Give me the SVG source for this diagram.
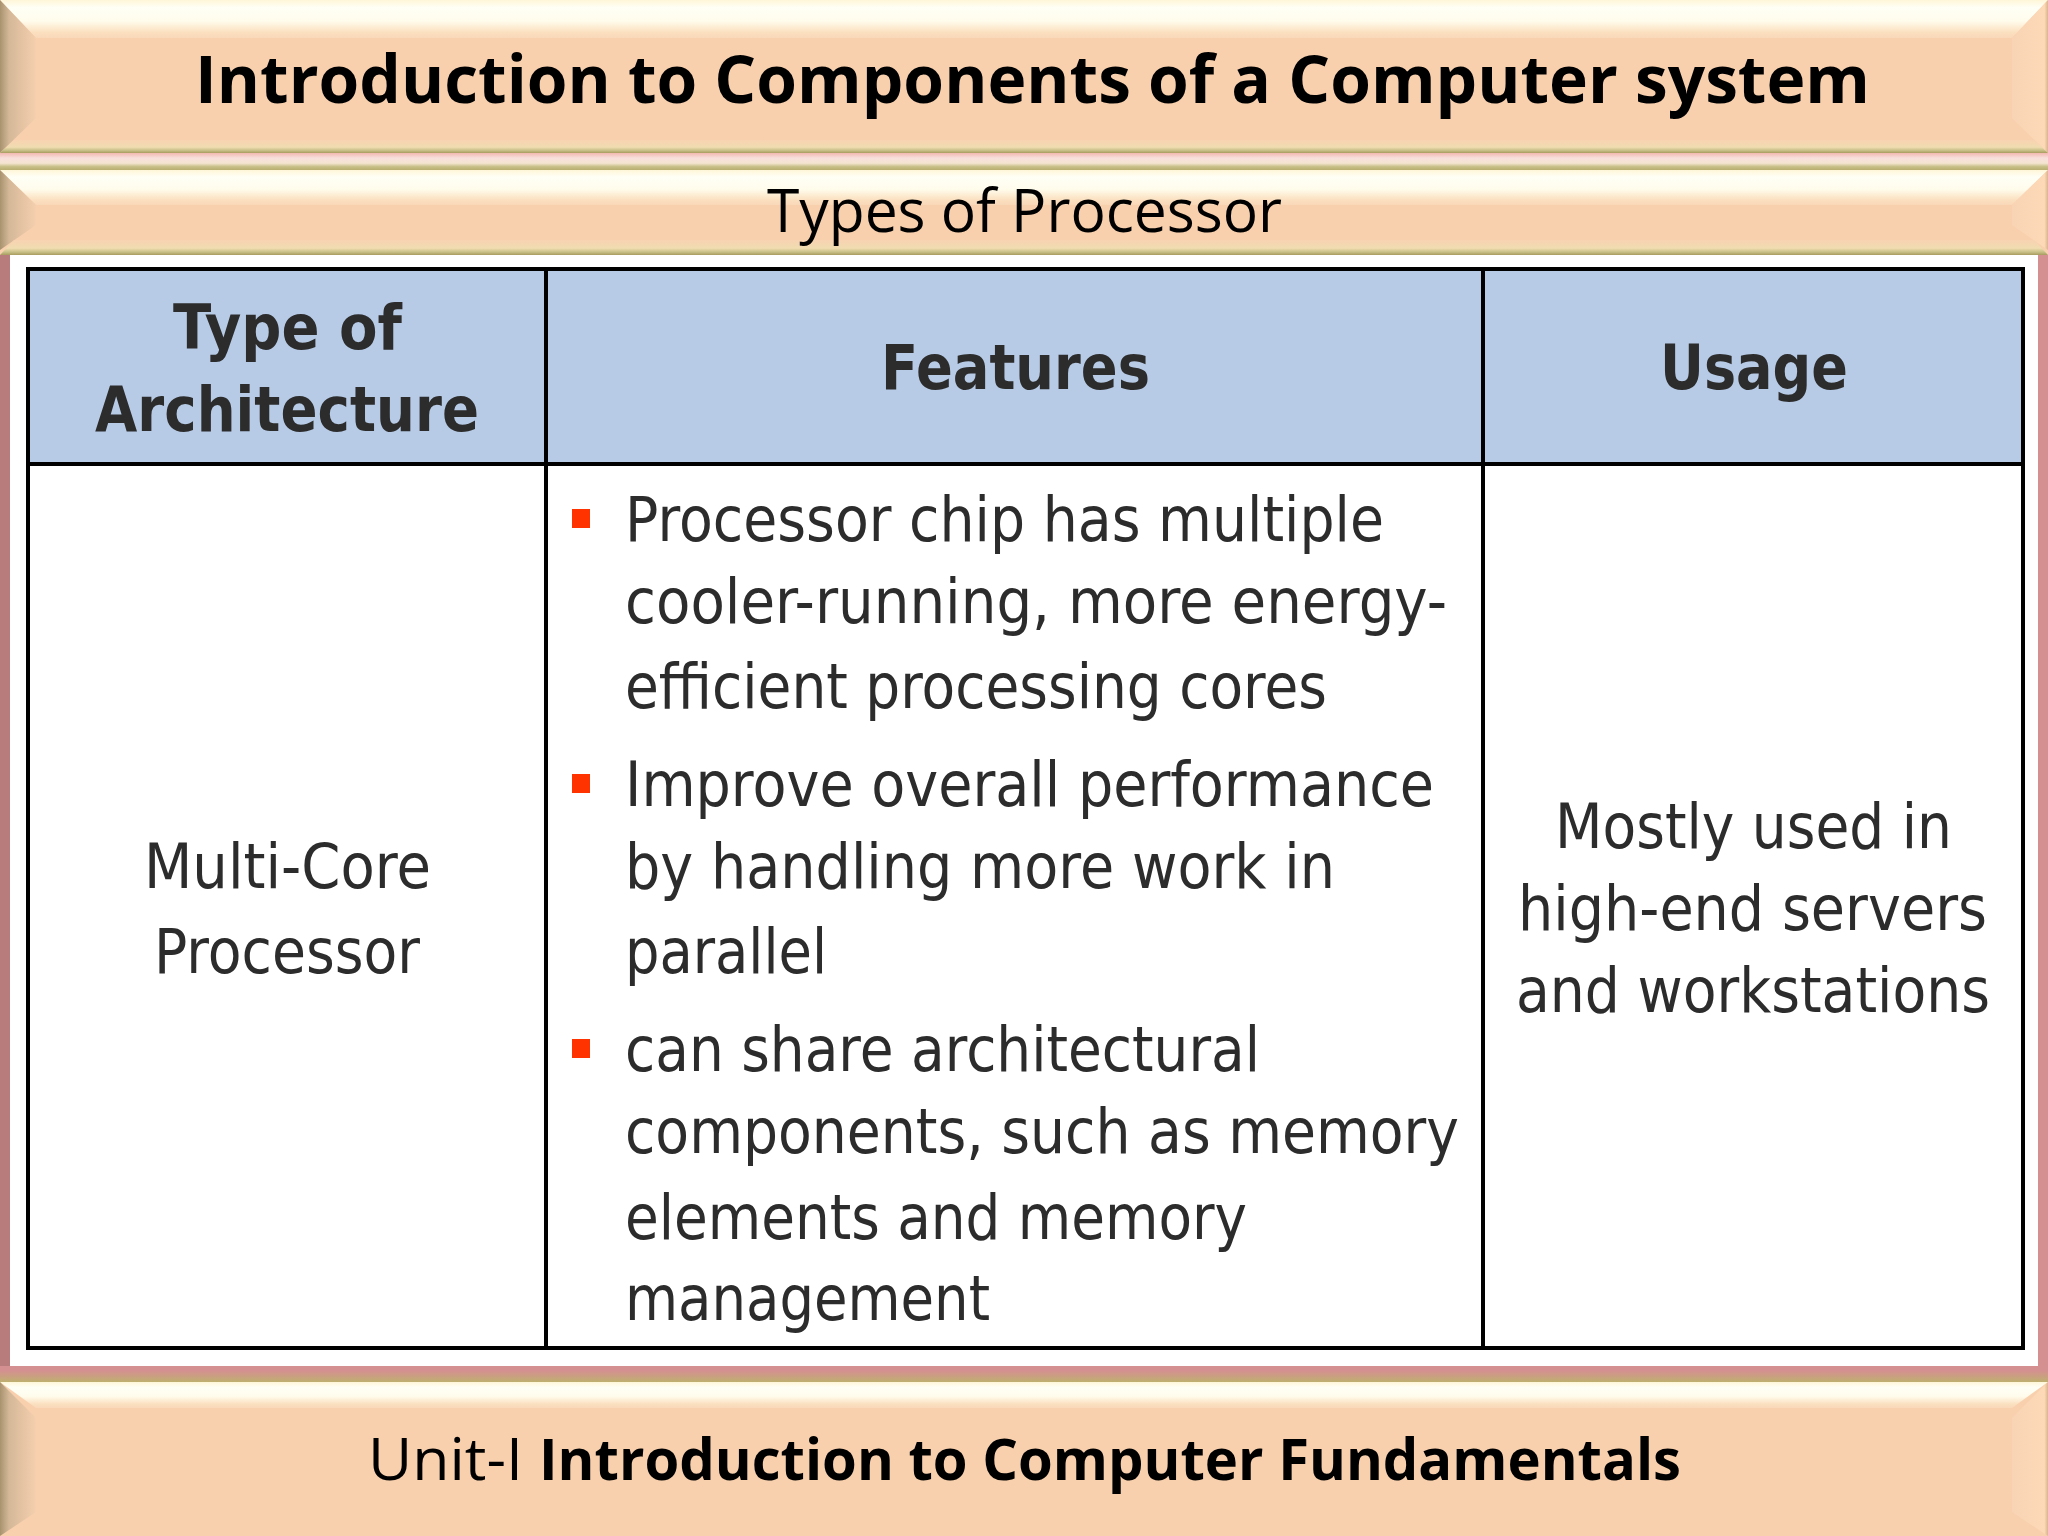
<svg xmlns="http://www.w3.org/2000/svg" width="2048" height="1536" viewBox="0 0 2048 1536">
<style>
.t{font-family:"Open Sans","Noto Sans",sans-serif;fill:#000}
.b{font-weight:700}
.c{font-family:"DejaVu Sans","Noto Sans",sans-serif;fill:#2c2c2c;font-size:63px}
.h{font-weight:700}
.g{stroke:#000;stroke-width:4;fill:none}
.bul{fill:#ff3300}
</style>
<defs>
<linearGradient id="top" x1="0" y1="0" x2="0" y2="1"><stop offset="0" stop-color="#fff6d8"/><stop offset=".2" stop-color="#fffff6"/><stop offset=".55" stop-color="#fffcec"/><stop offset=".85" stop-color="#fbe0c0"/><stop offset="1" stop-color="#f9d8b8"/></linearGradient>
<linearGradient id="left" x1="0" y1="0" x2="1" y2="0"><stop offset="0" stop-color="#a8926e"/><stop offset=".25" stop-color="#d4b898"/><stop offset="1" stop-color="#f5cfae"/></linearGradient>
<linearGradient id="right" x1="0" y1="0" x2="1" y2="0"><stop offset="0" stop-color="#f9d4b4"/><stop offset=".9" stop-color="#fdd9b8"/><stop offset="1" stop-color="#d8b48c"/></linearGradient>
<linearGradient id="bot" x1="0" y1="0" x2="0" y2="1"><stop offset="0" stop-color="#f8d3b2"/><stop offset=".55" stop-color="#f0dcb0"/><stop offset=".8" stop-color="#c8c088"/><stop offset="1" stop-color="#a89c60"/></linearGradient>
<linearGradient id="sep" x1="0" y1="0" x2="0" y2="1"><stop offset="0" stop-color="#f2b8b0"/><stop offset=".3" stop-color="#f8e0dc"/><stop offset=".6" stop-color="#f4e4d0"/><stop offset=".8" stop-color="#c8c088"/><stop offset="1" stop-color="#b8ae70"/></linearGradient>
<linearGradient id="fb" x1="0" y1="0" x2="0" y2="1"><stop offset="0" stop-color="#d49090"/><stop offset=".3" stop-color="#d49090"/><stop offset="1" stop-color="#bfb070"/></linearGradient>
</defs>
<rect width="2048" height="1536" fill="#fff"/>
<g id="frame">
<rect x="0" y="255" width="10" height="1115" fill="#b87c7c"/>
<rect x="2038" y="255" width="10" height="1115" fill="#d49090"/>
<rect x="0" y="1366" width="2048" height="16" fill="url(#fb)"/>
<rect x="0" y="153" width="2048" height="17" fill="url(#sep)"/>
</g>
<g id="title-band">
<rect x="0" y="0" width="2048" height="153" fill="#f8d0ae"/>
<polygon points="0,0 2048,0 2012,38 36,38" fill="url(#top)"/>
<polygon points="0,0 36,38 36,118 0,153" fill="url(#left)"/>
<polygon points="2048,0 2012,38 2012,118 2048,153" fill="url(#right)"/>
<polygon points="0,153 14,140 2034,140 2048,153" fill="url(#bot)"/>
<text class="t b" x="195" y="103" font-size="67" textLength="1675" lengthAdjust="spacingAndGlyphs">Introduction to Components of a Computer system</text>
</g>
<g id="subtitle-band">
<rect x="0" y="170" width="2048" height="85" fill="#f8d0ae"/>
<polygon points="0,170 2048,170 2012,205 36,205" fill="url(#top)"/>
<polygon points="0,170 36,205 36,225 0,250" fill="url(#left)"/>
<polygon points="2048,170 2012,205 2012,225 2048,250" fill="url(#right)"/>
<polygon points="0,255 14,240 2034,240 2048,255" fill="url(#bot)"/>
<text class="t" x="767" y="232" font-size="60" textLength="515" lengthAdjust="spacingAndGlyphs">Types of Processor</text>
</g>
<g id="table">
<rect x="28" y="269" width="1995" height="195" fill="#b7cbe6"/>
<g class="g">
<rect x="28" y="269" width="1995" height="1079"/>
<line x1="28" y1="464" x2="2023" y2="464"/>
<line x1="546" y1="269" x2="546" y2="1348"/>
<line x1="1483" y1="269" x2="1483" y2="1348"/>
</g>
</g>
<g id="header-type"><text class="c h" x="173" y="349" textLength="229" lengthAdjust="spacingAndGlyphs">Type of</text><text class="c h" x="95" y="431" textLength="384" lengthAdjust="spacingAndGlyphs">Architecture</text></g>
<g id="header-features"><text class="c h" x="881" y="389" textLength="269" lengthAdjust="spacingAndGlyphs">Features</text></g>
<g id="header-usage"><text class="c h" x="1660" y="389" textLength="188" lengthAdjust="spacingAndGlyphs">Usage</text></g>
<g id="cell-type"><text class="c" x="144" y="888" textLength="287" lengthAdjust="spacingAndGlyphs">Multi-Core</text><text class="c" x="154" y="973" textLength="266" lengthAdjust="spacingAndGlyphs">Processor</text></g>
<g id="cell-features">
<rect class="bul" x="572" y="509" width="18" height="19"/>
<rect class="bul" x="572" y="774" width="18" height="19"/>
<rect class="bul" x="572" y="1039" width="18" height="19"/>
<text class="c" x="625" y="541" textLength="759" lengthAdjust="spacingAndGlyphs">Processor chip has multiple</text>
<text class="c" x="625" y="623" textLength="822" lengthAdjust="spacingAndGlyphs">cooler-running, more energy-</text>
<text class="c" x="625" y="708" textLength="702" lengthAdjust="spacingAndGlyphs">efficient processing cores</text>
<text class="c" x="625" y="806" textLength="809" lengthAdjust="spacingAndGlyphs">Improve overall performance</text>
<text class="c" x="625" y="888" textLength="710" lengthAdjust="spacingAndGlyphs">by handling more work in</text>
<text class="c" x="625" y="973" textLength="202" lengthAdjust="spacingAndGlyphs">parallel</text>
<text class="c" x="625" y="1071" textLength="635" lengthAdjust="spacingAndGlyphs">can share architectural</text>
<text class="c" x="625" y="1153" textLength="834" lengthAdjust="spacingAndGlyphs">components, such as memory</text>
<text class="c" x="625" y="1239" textLength="622" lengthAdjust="spacingAndGlyphs">elements and memory</text>
<text class="c" x="625" y="1320" textLength="365" lengthAdjust="spacingAndGlyphs">management</text>
</g>
<g id="cell-usage">
<text class="c" x="1555" y="848" textLength="397" lengthAdjust="spacingAndGlyphs">Mostly used in</text>
<text class="c" x="1518" y="930" textLength="469" lengthAdjust="spacingAndGlyphs">high-end servers</text>
<text class="c" x="1516" y="1012" textLength="474" lengthAdjust="spacingAndGlyphs">and workstations</text>
</g>
<g id="footer-band">
<rect x="0" y="1382" width="2048" height="154" fill="#f8d0ae"/>
<polygon points="0,1382 2048,1382 2012,1408 36,1408" fill="url(#top)"/>
<polygon points="2048,1382 2012,1418 2012,1512 2048,1536" fill="url(#right)"/>
<polygon points="0,1382 36,1418 36,1512 0,1536" fill="url(#left)"/>
<text class="t" x="368" y="1480" font-size="58" textLength="155" lengthAdjust="spacingAndGlyphs">Unit-I</text>
<text class="t b" x="539" y="1480" font-size="58" textLength="1142" lengthAdjust="spacingAndGlyphs">Introduction to Computer Fundamentals</text>
</g>
</svg>
